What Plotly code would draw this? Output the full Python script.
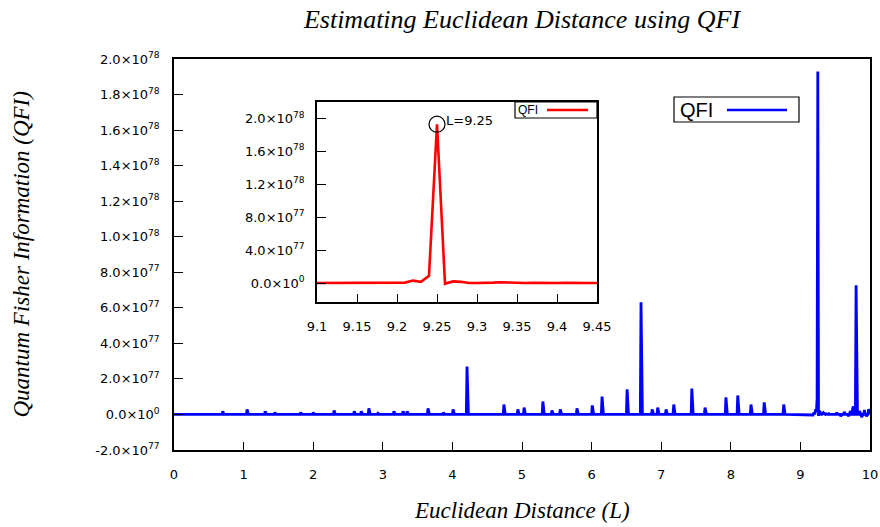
import numpy as np
import plotly.graph_objects as go

# Sampling grid of the scan over Euclidean distance L (step 0.01)
L_STEP = 0.01
L_MAX = 10.0

# Nonzero QFI readings along the scan (L, value); everywhere else QFI sits at ~0
peak_L = [0.70, 1.05, 1.31, 1.45, 1.82, 2.00, 2.30, 2.59, 2.69, 2.80, 2.93,
          3.16, 3.29, 3.35, 3.65, 3.87, 4.01, 4.21, 4.74, 4.94, 5.03, 5.30,
          5.43, 5.55, 5.79, 6.01, 6.15, 6.51, 6.71, 6.87, 6.95, 7.07, 7.18,
          7.44, 7.63, 7.93, 8.10, 8.29, 8.48, 8.76,
          9.18, 9.19, 9.20, 9.21, 9.22, 9.23, 9.24, 9.25, 9.26, 9.27, 9.28,
          9.32, 9.33, 9.34, 9.37, 9.41,
          9.52, 9.58, 9.63, 9.69, 9.72, 9.75, 9.76, 9.80, 9.85, 9.88, 9.92,
          9.95, 9.98]
peak_QFI = [0.17e77, 0.28e77, 0.17e77, 0.11e77, 0.11e77, 0.11e77, 0.23e77,
            0.17e77, 0.17e77, 0.34e77, 0.06e77, 0.17e77, 0.17e77, 0.17e77,
            0.34e77, 0.10e77, 0.28e77, 2.70e77, 0.56e77, 0.28e77, 0.39e77,
            0.73e77, 0.23e77, 0.28e77, 0.34e77, 0.51e77, 1.01e77, 1.41e77,
            6.31e77, 0.28e77, 0.39e77, 0.28e77, 0.56e77, 1.46e77, 0.39e77,
            0.96e77, 1.07e77, 0.56e77, 0.68e77, 0.56e77,
            -0.03e77, 0.06e77, 0.04e77, 0.06e77, 0.30e77, 0.15e77, 0.88e77,
            1.93e78, -0.08e77, 0.20e77, 0.15e77,
            0.05e77, 0.10e77, 0.05e77, 0.04e77, 0.04e77,
            0.10e77, -0.10e77, 0.15e77, -0.10e77, 0.20e77, 0.30e77, 0.45e77,
            7.27e77, 0.20e77, -0.15e77, 0.25e77, -0.10e77, 0.30e77]

# Axis ticks
main_y_ticks = [-2e77, 0, 2e77, 4e77, 6e77, 8e77, 1.0e78, 1.2e78, 1.4e78,
                1.6e78, 1.8e78, 2.0e78]
main_y_labels = ["-2.0×10<sup>77</sup>", "0.0×10<sup>0</sup>",
                 "2.0×10<sup>77</sup>", "4.0×10<sup>77</sup>",
                 "6.0×10<sup>77</sup>", "8.0×10<sup>77</sup>",
                 "1.0×10<sup>78</sup>", "1.2×10<sup>78</sup>",
                 "1.4×10<sup>78</sup>", "1.6×10<sup>78</sup>",
                 "1.8×10<sup>78</sup>", "2.0×10<sup>78</sup>"]
main_x_ticks = [0, 1, 2, 3, 4, 5, 6, 7, 8, 9, 10]
inset_y_ticks = [0, 4e77, 8e77, 1.2e78, 1.6e78, 2.0e78]
inset_y_labels = ["0.0×10<sup>0</sup>", "4.0×10<sup>77</sup>",
                  "8.0×10<sup>77</sup>", "1.2×10<sup>78</sup>",
                  "1.6×10<sup>78</sup>", "2.0×10<sup>78</sup>"]
inset_x_ticks = [9.1, 9.15, 9.2, 9.25, 9.3, 9.35, 9.4, 9.45]
inset_x_labels = ["9.1", "9.15", "9.2", "9.25", "9.3", "9.35", "9.4", "9.45"]

# Assemble the sampled series
n = int(round(L_MAX / L_STEP)) + 1
L = np.round(np.arange(n) * L_STEP, 2)
qfi = np.zeros(n)
for l, v in zip(peak_L, peak_QFI):
    qfi[int(round(l / L_STEP))] = v

imax = int(np.argmax(qfi))
L_peak, qfi_peak = L[imax], qfi[imax]

inset_mask = (L >= 9.1 - 1e-9) & (L <= 9.45 + 1e-9)

TICK_FONT = dict(family="DejaVu Sans", size=13, color="black")
SERIF_IT = "Liberation Serif"

# Plot-area geometry in pixels
PL, PR, PT, PB = 174, 870, 59, 450
W, H = 880, 527

fig = go.Figure()
fig.add_trace(go.Scatter(x=L, y=qfi, mode="lines",
                         line=dict(color="#0000ff", width=2.8),
                         showlegend=False, xaxis="x", yaxis="y"))
fig.add_trace(go.Scatter(x=L[inset_mask], y=qfi[inset_mask], mode="lines",
                         line=dict(color="#ff0000", width=2.6),
                         showlegend=False, xaxis="x2", yaxis="y2"))
fig.add_trace(go.Scatter(x=[L_peak], y=[qfi_peak], mode="markers",
                         marker=dict(symbol="circle-open", size=16,
                                     color="black", line=dict(width=1.2)),
                         showlegend=False, xaxis="x2", yaxis="y2"))

axis_common = dict(showgrid=False, zeroline=False, showline=True,
                   linecolor="black", linewidth=1.5, mirror=True,
                   ticks="inside", tickcolor="black", tickwidth=1.2,
                   tickfont=TICK_FONT, automargin=False)


def px_x(p):
    return (p - PL) / (PR - PL)


def px_y(p):
    return (PB - p) / (PB - PT)


ix0, ix1 = px_x(317), px_x(597)
iy0, iy1 = px_y(302), px_y(102)

fig.update_layout(
    width=W, height=H,
    margin=dict(l=PL, r=W - PR, t=PT, b=H - PB, autoexpand=False),
    paper_bgcolor="white", plot_bgcolor="white", showlegend=False,
    title=dict(text="<i>Estimating Euclidean Distance using QFI</i>",
               x=(PL + PR) / 2 / W, xanchor="center", y=1 - 19 / H,
               yanchor="middle", font=dict(family=SERIF_IT, size=26,
                                           color="black")),
    xaxis=dict(range=[0, 10], tickvals=main_x_ticks, ticklen=8,
               ticklabelstandoff=12, **axis_common),
    yaxis=dict(range=[-2e77, 2.0e78], tickvals=main_y_ticks,
               ticktext=main_y_labels, ticklen=9, ticklabelstandoff=10,
               **axis_common),
    xaxis2=dict(domain=[ix0, ix1], anchor="y2", range=[9.1, 9.45],
                tickvals=inset_x_ticks, ticktext=inset_x_labels, ticklen=8,
                ticklabelstandoff=12, **axis_common),
    yaxis2=dict(domain=[iy0, iy1], anchor="x2", range=[-2.3e77, 2.2e78],
                tickvals=inset_y_ticks, ticktext=inset_y_labels, ticklen=9,
                ticklabelstandoff=8, **axis_common),
)

# Axis titles
fig.add_annotation(text="<i>Euclidean Distance (L)</i>", xref="paper",
                   yref="paper", x=0.5, y=px_y(511),
                   xanchor="center", yanchor="middle", showarrow=False,
                   font=dict(family=SERIF_IT, size=23, color="black"))
fig.add_annotation(text="<i>Quantum Fisher Information (QFI)</i>",
                   xref="paper", yref="paper", x=px_x(21),
                   y=0.5, xanchor="center", yanchor="middle",
                   textangle=-90, showarrow=False,
                   font=dict(family=SERIF_IT, size=23, color="black"))

# Peak label inside the inset
fig.add_annotation(text="L=%.2f" % L_peak, x=L_peak, y=qfi_peak,
                   xref="x2", yref="y2", xanchor="left", yanchor="middle",
                   xshift=7, yshift=4, showarrow=False,
                   font=dict(family="DejaVu Sans", size=13, color="black"))

# Legend boxes (key text on the left, line sample on the right)
shapes = [
    dict(type="rect", xref="paper", yref="paper", x0=px_x(674), x1=px_x(799),
         y0=px_y(122), y1=px_y(97), line=dict(color="black", width=1.2),
         fillcolor="white", layer="above"),
    dict(type="line", xref="paper", yref="paper", x0=px_x(727), x1=px_x(787),
         y0=px_y(110), y1=px_y(110), line=dict(color="#0000ff", width=2.6)),
    dict(type="rect", xref="paper", yref="paper", x0=px_x(515), x1=px_x(597),
         y0=px_y(118), y1=px_y(102), line=dict(color="black", width=1.2),
         fillcolor="white", layer="above"),
    dict(type="line", xref="paper", yref="paper", x0=px_x(547), x1=px_x(588),
         y0=px_y(110), y1=px_y(110), line=dict(color="#ff0000", width=2.6)),
]
fig.update_layout(shapes=shapes)
fig.add_annotation(text="QFI", xref="paper", yref="paper", x=px_x(678),
                   y=px_y(110), xanchor="left", yanchor="middle",
                   showarrow=False,
                   font=dict(family="Liberation Sans", size=20, color="black"))
fig.add_annotation(text="QFI", xref="paper", yref="paper", x=px_x(516),
                   y=px_y(110), xanchor="left", yanchor="middle",
                   showarrow=False,
                   font=dict(family="Liberation Sans", size=12, color="black"))

fig.write_html("out.html")
